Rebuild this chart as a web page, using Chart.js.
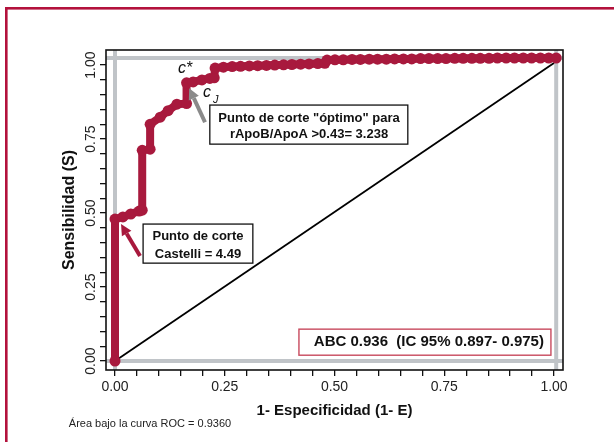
<!DOCTYPE html>
<html><head><meta charset="utf-8">
<script src="https://cdn.jsdelivr.net/npm/chart.js@4.4.1/dist/chart.umd.min.js"></script>
<style>html,body{margin:0;padding:0;background:#fff;}canvas{display:block;}</style>
</head><body>
<canvas id="c" width="614" height="442"></canvas>
<script>
// ROC curve (1 - specificity, sensitivity)
const rocX = [0, 0, 0.018, 0.036, 0.055, 0.062, 0.062, 0.080, 0.080, 0.103, 0.121, 0.141, 0.163, 0.163, 0.178, 0.198, 0.216, 0.226, 0.228,
  0.247, 0.267, 0.286, 0.306, 0.325, 0.345, 0.364, 0.384, 0.403, 0.423, 0.442, 0.462, 0.478, 0.483,
  0.501, 0.520, 0.540, 0.559, 0.579, 0.598, 0.618, 0.637, 0.657, 0.676, 0.696, 0.715, 0.735, 0.754,
  0.774, 0.793, 0.813, 0.832, 0.852, 0.871, 0.891, 0.910, 0.930, 0.949, 0.969, 0.988, 1.005];
const rocY = [0, 0.480, 0.487, 0.497, 0.507, 0.510, 0.712, 0.716, 0.800, 0.824, 0.846, 0.868, 0.870, 0.940, 0.943, 0.950, 0.955, 0.957, 0.990,
  0.993, 0.995, 0.996, 0.997, 0.998, 0.999, 1.000, 1.001, 1.002, 1.003, 1.004, 1.005, 1.006, 1.017,
  1.018, 1.018, 1.019, 1.019, 1.020, 1.020, 1.020, 1.021, 1.021, 1.021, 1.022, 1.022, 1.022, 1.022,
  1.023, 1.023, 1.023, 1.023, 1.023, 1.024, 1.024, 1.024, 1.024, 1.024, 1.024, 1.024, 1.024];
// chance diagonal
const diagX = [0, 1];
const diagY = [0, 1.007];
// grey reference lines
const refVertX = [0, 1.005];
const refHorzY = [0, 1.024];
// axis ticks
const tickValues = [0, 0.05, 0.1, 0.15, 0.2, 0.25, 0.3, 0.35, 0.4, 0.45, 0.5, 0.55, 0.6, 0.65, 0.7, 0.75, 0.8, 0.85, 0.9, 0.95, 1];
const majorTicks = [0, 0.25, 0.5, 0.75, 1];
const tickLabels = ['0.00', '0.25', '0.50', '0.75', '1.00'];
// texts
const xTitle = '1- Especificidad (1- E)';
const yTitle = 'Sensibilidad (S)';
const abcText = 'ABC 0.936  (IC 95% 0.897- 0.975)';
const castelliLines = ['Punto de corte', 'Castelli = 4.49'];
const optimoLines = ['Punto de corte "óptimo" para', 'rApoB/ApoA >0.43= 3.238'];
const footText = 'Área bajo la curva ROC = 0.9360';

const F = '"Liberation Sans", Arial, Helvetica, sans-serif';
const RED = '#a8193d';
const FRAME = '#b3123c';
const GREY = '#c0c4c8';

function labelFor(v) {
  const i = majorTicks.findIndex(m => Math.abs(m - v) < 1e-6);
  return i >= 0 ? tickLabels[i] : '';
}

const datasets = [];
datasets.push({
  data: rocX.map((x, i) => ({x, y: rocY[i]})),
  showLine: true, borderColor: RED, backgroundColor: RED, borderWidth: 8,
  borderJoinStyle: 'round', borderCapStyle: 'round',
  pointRadius: 5.5, pointBorderWidth: 0, pointBackgroundColor: RED, clip: 8
});
datasets.push({
  data: diagX.map((x, i) => ({x, y: diagY[i]})),
  showLine: true, borderColor: '#000', borderWidth: 1.8, pointRadius: 0
});
refVertX.forEach(v => datasets.push({
  data: [{x: v, y: -0.2}, {x: v, y: 1.2}], showLine: true, borderColor: GREY, borderWidth: 4, pointRadius: 0, clip: 0
}));
refHorzY.forEach(v => datasets.push({
  data: [{x: -0.2, y: v}, {x: 1.2, y: v}], showLine: true, borderColor: GREY, borderWidth: 4, pointRadius: 0, clip: 0
}));

function arrow(ctx, x1, y1, x2, y2, color, w) {
  const a = Math.atan2(y2 - y1, x2 - x1);
  const hl = 11, hw = 5.5;
  const bx = x2 - hl * Math.cos(a), by = y2 - hl * Math.sin(a);
  ctx.strokeStyle = color; ctx.lineWidth = w; ctx.lineCap = 'butt';
  ctx.beginPath(); ctx.moveTo(x1, y1); ctx.lineTo(bx, by); ctx.stroke();
  ctx.fillStyle = color;
  ctx.beginPath();
  ctx.moveTo(x2, y2);
  ctx.lineTo(bx + hw * Math.sin(a), by - hw * Math.cos(a));
  ctx.lineTo(bx - hw * Math.sin(a), by + hw * Math.cos(a));
  ctx.closePath(); ctx.fill();
}

const deco = {
  id: 'deco',
  beforeDraw(chart) {
    const ctx = chart.ctx;
    ctx.save();
    ctx.fillStyle = '#fff'; ctx.fillRect(0, 0, chart.width, chart.height);
    ctx.fillStyle = FRAME;
    ctx.fillRect(5, 7, chart.width - 5, 2.6);
    ctx.fillRect(5, 7, 2.6, chart.height - 7);
    ctx.restore();
  },
  afterDatasetsDraw(chart) {
    const ctx = chart.ctx, xs = chart.scales.x, ys = chart.scales.y;
    const X = v => xs.getPixelForValue(v), Y = v => ys.getPixelForValue(v);
    const a = chart.chartArea;
    ctx.save();
    ctx.strokeStyle = '#111'; ctx.lineWidth = 1.6;
    ctx.strokeRect(a.left, a.top, a.right - a.left, a.bottom - a.top);
    arrow(ctx, X(0.057), Y(0.355), X(0.0137), Y(0.463), RED, 4);
    arrow(ctx, X(0.205), Y(0.807), X(0.169), Y(0.922), '#8a8a8a', 4);
    function box(x0, y0, x1, y1, col, lw) {
      ctx.fillStyle = '#fff';
      ctx.fillRect(X(x0), Y(y0), X(x1) - X(x0), Y(y1) - Y(y0));
      ctx.strokeStyle = col; ctx.lineWidth = lw;
      ctx.strokeRect(X(x0), Y(y0), X(x1) - X(x0), Y(y1) - Y(y0));
    }
    box(0.419, 0.108, 0.993, 0.020, '#c84a5e', 1.4);
    box(0.064, 0.463, 0.314, 0.331, '#111', 1.3);
    box(0.216, 0.865, 0.667, 0.733, '#111', 1.3);
    ctx.fillStyle = '#111'; ctx.textAlign = 'center'; ctx.textBaseline = 'middle';
    ctx.font = 'bold 15px ' + F;
    ctx.fillText(abcText, X(0.715), Y(0.064));
    ctx.font = 'bold 13px ' + F;
    ctx.fillText(castelliLines[0], X(0.189), Y(0.422));
    ctx.fillText(castelliLines[1], X(0.189), Y(0.361));
    ctx.fillText(optimoLines[0], X(0.442), Y(0.821));
    ctx.fillText(optimoLines[1], X(0.442), Y(0.767));
    ctx.textAlign = 'left'; ctx.textBaseline = 'alphabetic';
    ctx.font = 'italic 16px ' + F;
    ctx.fillText('c*', X(0.1435), Y(0.973));
    ctx.fillText('c', X(0.2005), Y(0.892));
    ctx.font = 'italic 11px ' + F;
    ctx.fillText('J', X(0.223), Y(0.872));
    ctx.textAlign = 'center'; ctx.textBaseline = 'middle';
    ctx.font = '11px ' + F; ctx.fillStyle = '#222';
    ctx.fillText(footText, 150, 424);
    ctx.restore();
  }
};

const axisCommon = {
  type: 'linear',
  afterBuildTicks: s => { s.ticks = tickValues.map(v => ({value: v})); },
  border: {display: false},
  grid: {drawOnChartArea: false, drawTicks: true, tickLength: 6, color: '#111', lineWidth: 1.3}
};

new Chart(document.getElementById('c'), {
  type: 'scatter',
  data: {datasets},
  options: {
    responsive: false, animation: false, devicePixelRatio: 1,
    layout: {padding: {left: 0, top: 50, right: 51, bottom: 0}},
    plugins: {legend: {display: false}, tooltip: {enabled: false}},
    scales: {
      x: Object.assign({}, axisCommon, {
        min: -0.0205, max: 1.0205,
        afterFit: s => { s.height = 72; },
        ticks: {autoSkip: false, minRotation: 0, maxRotation: 0, padding: 3, color: '#222',
          font: {family: F, size: 14}, callback: v => labelFor(v)},
        title: {display: true, text: xTitle, color: '#111', font: {family: F, size: 15, weight: 'bold'},
          padding: {top: 0, bottom: 22}}
      }),
      y: Object.assign({}, axisCommon, {
        min: -0.030, max: 1.051,
        afterFit: s => { s.width = 106; },
        ticks: {autoSkip: false, minRotation: 90, maxRotation: 90, crossAlign: 'center', padding: -4.5,
          color: '#222', font: {family: F, size: 14}, callback: v => labelFor(v)},
        title: {display: true, text: yTitle, color: '#111', font: {family: F, size: 16, weight: 'bold'},
          padding: {top: 60.4, bottom: 0}}
      })
    }
  },
  plugins: [deco]
});
</script>
</body></html>
